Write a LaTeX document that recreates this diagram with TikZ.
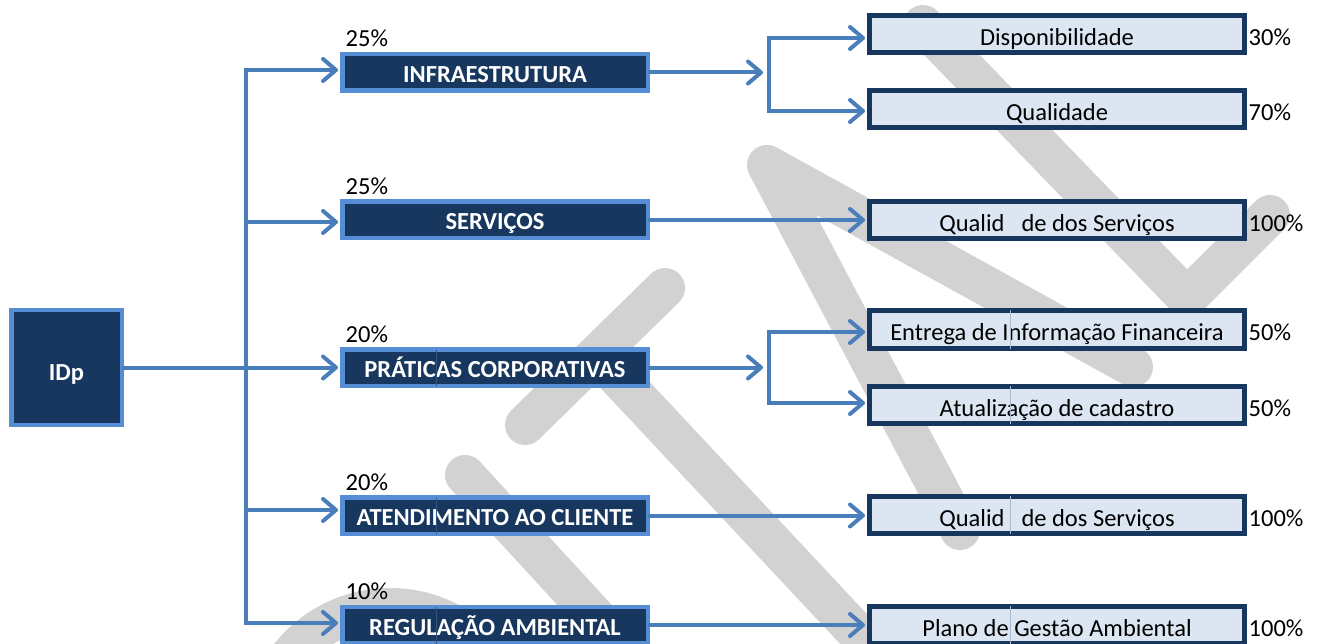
\documentclass[tikz,border=0pt]{standalone}
\usepackage{fontspec}
\setmainfont{Carlito}
\usetikzlibrary{arrows.meta,calc}
\definecolor{navy}{RGB}{23,55,94}
\definecolor{lblue}{RGB}{85,142,213}
\definecolor{cblue}{RGB}{74,126,187}
\definecolor{pale}{RGB}{220,230,242}
\definecolor{wm}{RGB}{210,210,210}
\definecolor{gridl}{RGB}{50,85,130}
\definecolor{gridr}{RGB}{170,185,205}
\begin{document}
\begin{tikzpicture}[x=1pt,y=-1pt,
  lbox/.style={draw=lblue, line width=4.5pt, fill=navy, text=white,
    font=\bfseries\fontsize{24.5}{29}\selectfont, minimum width=305.5pt,
    minimum height=36.5pt, inner sep=0pt, text height=20pt, text depth=0pt},
  rbox/.style={draw=navy, line width=5pt, fill=pale, text=black,
    font=\fontsize{24.5}{29}\selectfont, minimum width=375pt,
    minimum height=37pt, inner sep=0pt, text height=23pt, text depth=0pt},
  pct/.style={font=\fontsize{24.5}{29}\selectfont, inner sep=0pt, anchor=base west},
  connector/.style={draw=cblue, line width=4pt, line cap=rect},
  arr/.style={connector, shorten >=2pt, -{Straight Barb[length=13pt,width=22pt,round]}},
  wmark/.style={draw=wm, line width=40pt, line cap=round, line join=round},
  gl/.style={draw=gridl, line width=1pt},
  gr/.style={draw=gridr, line width=1pt},
]
\path[use as bounding box] (0,0) rectangle (1317,644);

% watermark
\draw[wmark] (923,25) -- (1187,298) -- (1270,215);
\draw[wmark] (960,530) -- (767,165) -- (1133,367);
\draw[wmark] (665,288) -- (525,425);
\draw[wmark] (598,356) -- (920,700);
\draw[wmark] (465,475) -- (660,687);
\draw[wmark] (390,736) circle[radius=128pt];

% left boxes
\node[lbox] (infra) at (495,72.5) {INFRAESTRUTURA};
\node[lbox] (serv) at (495,220) {SERVIÇOS};
\node[lbox] (prat) at (495,367.5) {PRÁTICAS CORPORATIVAS};
\node[lbox] (atend) at (495,515.5) {ATENDIMENTO AO CLIENTE};
\node[lbox] (reg) at (495,625) {REGULAÇÃO AMBIENTAL};
\node[lbox, minimum width=110.5pt, minimum height=114.5pt, text height=25pt] (idp) at (66.5,367.5) {IDp};

% right boxes
\node[rbox] (disp) at (1057,34) {Disponibilidade};
\node[rbox] (qual) at (1057,109.5) {Qualidade};
\node[rbox] (qs1) at (1057,220) {Qualid\hspace{17pt}de dos Serviços};
\node[rbox] (entr) at (1057,329.5) {Entrega de Informação Financeira};
\node[rbox] (atual) at (1057,405) {Atualização de cadastro};
\node[rbox] (qs2) at (1057,515) {Qualid\hspace{17pt}de dos Serviços};
\node[rbox] (plano) at (1057,625) {Plano de Gestão Ambiental};

% faint cell grid lines
\draw[gl] (436,349.5) -- (436,385.5);
\draw[gl] (436,497.5) -- (436,533.5);
\draw[gl] (436,606.5) -- (436,644);
\draw[gr] (1010,310.5) -- (1010,348.5);
\draw[gr] (1010,386) -- (1010,424);
\draw[gr] (1010,496) -- (1010,534);
\draw[gr] (1010,606) -- (1010,644);

% percentages left
\node[pct] (p1) at ($(infra.north west)+(5.5,-5)$) {25\%};
\node[pct] (p2) at ($(serv.north west)+(5.5,-5)$) {25\%};
\node[pct] (p3) at ($(prat.north west)+(5.5,-5)$) {20\%};
\node[pct] (p4) at ($(atend.north west)+(5.5,-5)$) {20\%};
\node[pct] (p5) at ($(reg.north west)+(5.5,-5)$) {10\%};

% percentages right
\node[pct] (r1) at ($(disp.east)+(1.5,11.5)$) {30\%};
\node[pct] (r2) at ($(qual.east)+(1.5,11.5)$) {70\%};
\node[pct] (r3) at ($(qs1.east)+(1.5,11.5)$) {100\%};
\node[pct] (r4) at ($(entr.east)+(1.5,11.5)$) {50\%};
\node[pct] (r5) at ($(atual.east)+(1.5,11.5)$) {50\%};
\node[pct] (r6) at ($(qs2.east)+(1.5,11.5)$) {100\%};
\node[pct] (r7) at ($(plano.east)+(1.5,11.5)$) {100\%};

% connectors left
\coordinate (t1) at (246,70);
\coordinate (t2) at (246,222);
\coordinate (t4) at (246,510);
\coordinate (t5) at (246,623);
\draw[connector] (t1) -- (t5);
\draw[arr] (t1) -- (infra.west |- t1);
\draw[arr] (t2) -- (serv.west |- t2);
\draw[arr] (idp.east) -- (prat.west);
\draw[arr] (t4) -- (atend.west |- t4);
\draw[arr] (t5) -- (reg.west |- t5);

% connectors right
\coordinate (b1a) at (769,38);
\coordinate (b1b) at (769,111);
\coordinate (b2a) at (769,332);
\coordinate (b2b) at (769,403);
\draw[arr, shorten >=6pt] (infra.east) -- (b1a |- infra.east);
\draw[connector] (b1a) -- (b1b);
\draw[arr] (b1a) -- (disp.west |- b1a);
\draw[arr] (b1b) -- (qual.west |- b1b);
\draw[arr] (serv.east) -- (qs1.west);
\draw[arr, shorten >=6pt] (prat.east) -- (b2a |- prat.east);
\draw[connector] (b2a) -- (b2b);
\draw[arr] (b2a) -- (entr.west |- b2a);
\draw[arr] (b2b) -- (atual.west |- b2b);
\draw[arr] (atend.east) -- (qs2.west |- atend.east);
\draw[arr] (reg.east) -- (plano.west);
\end{tikzpicture}
\end{document}
